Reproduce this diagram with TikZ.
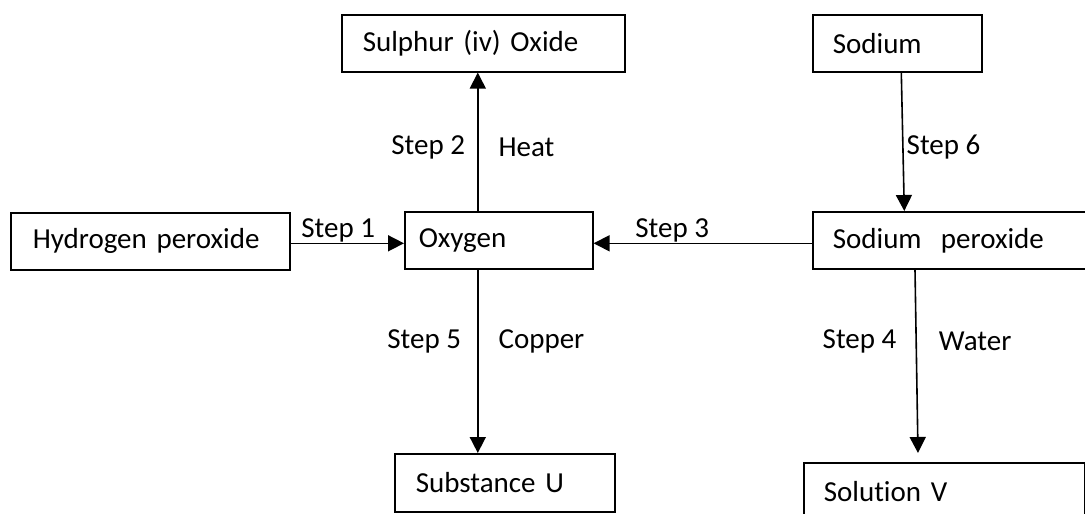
\documentclass[tikz,border=0pt]{standalone}
\usepackage{fontspec}
\setmainfont{Carlito}[Ligatures=NoCommon]
\usetikzlibrary{arrows.meta, positioning}
\tikzset{
	chembox/.style={rectangle, draw=black, line width=1.6pt, minimum height=57pt, anchor=north west, align=left, inner xsep=20pt, inner ysep=0pt},
	react/.style={-{Triangle[length=16pt, width=16pt]}, line width=1.6pt},
	steplbl/.style={inner sep=0pt},
}

\begin{document}
\begin{tikzpicture}[x=1pt, y=-1pt, font=\fontsize{29pt}{34pt}\selectfont]
	\useasboundingbox (0,0) rectangle (1085,514);
	% substances
	\node[chembox, inner xsep=22pt, text width=235pt] (hp) at (10,212) {Hydrogen peroxide};
	\node[chembox, inner xsep=14pt, text width=160pt] (oxy) at (404,211) {Oxygen};
	\node[chembox, inner xsep=21pt, text width=241pt] (sul) at (341,14) {Sulphur (iv) Oxide};
	\node[chembox, text width=129pt] (sod) at (812,14) {Sodium};
	\node[chembox, text width=250pt] (sp) at (812,211) {Sodium\ \ peroxide};
	\node[chembox, inner xsep=21pt, text width=178pt, minimum height=58pt] (subu) at (394,453) {Substance U};
	\node[chembox, text width=241pt] (solv) at (803,462) {Solution V};
	% steps
	\draw[react] ([yshift=-2pt]hp.east) -- ([yshift=-2pt]hp.east -| oxy.west)
		node[steplbl, pos=0.42, above] {Step 1};
	\draw[react] ([xshift=-21pt]oxy.north) -- ([xshift=-21pt]oxy.north |- sul.south)
		node[steplbl, pos=0.46, left=12pt] {Step 2}
		node[steplbl, pos=0.46, right=20pt] {Heat};
	\draw[react] ([yshift=-3pt]sp.west) -- ([yshift=-3pt]sp.west -| oxy.east)
		node[steplbl, pos=0.64, above] {Step 3};
	\draw[react] ([xshift=103pt]sp.south west) -- ([xshift=115pt, yshift=9pt]solv.north west)
		node[steplbl, pos=0.39, left=19pt] {Step 4}
		node[steplbl, pos=0.39, right=22pt] {Water};
	\draw[react] ([xshift=-21pt]oxy.south) -- ([xshift=-21pt]oxy.south |- subu.north)
		node[steplbl, pos=0.39, left=16pt] {Step 5}
		node[steplbl, pos=0.39, right=20pt] {Copper};
	\draw[react] ([xshift=4pt]sod.south) -- ([xshift=7pt]sod.south |- sp.north)
		node[steplbl, pos=0.54, right=3pt] {Step 6};
\end{tikzpicture}
\end{document}
